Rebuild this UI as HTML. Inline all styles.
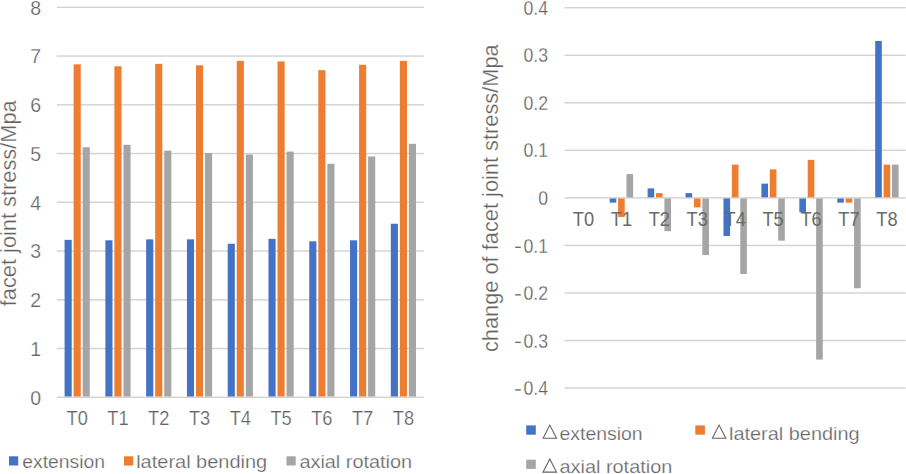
<!DOCTYPE html>
<html><head><meta charset="utf-8"><style>
html,body{margin:0;padding:0;background:#fff;width:906px;height:474px;overflow:hidden}
svg{display:block}
text{font-family:"Liberation Sans", sans-serif;fill:#636363;stroke:#fff;stroke-width:0.25px}
.xr{stroke:none;fill:#6a6a6a}
.t{font-size:19.5px}
.x{font-size:20.7px}
.l{font-size:19.1px}
.lr{font-size:18.6px}
.tr{font-size:20.3px}
.ti{font-size:21.8px}
</style></head><body>
<svg width="906" height="474" viewBox="0 0 906 474">
<rect width="906" height="474" fill="#fff"/>
<rect x="56.8" y="396.6" width="367" height="1.4" fill="#D2D2D2"/>
<rect x="56.8" y="347.85" width="367" height="1.4" fill="#D2D2D2"/>
<rect x="56.8" y="299.1" width="367" height="1.4" fill="#D2D2D2"/>
<rect x="56.8" y="250.35" width="367" height="1.4" fill="#D2D2D2"/>
<rect x="56.8" y="201.6" width="367" height="1.4" fill="#D2D2D2"/>
<rect x="56.8" y="152.85" width="367" height="1.4" fill="#D2D2D2"/>
<rect x="56.8" y="104.1" width="367" height="1.4" fill="#D2D2D2"/>
<rect x="56.8" y="55.35" width="367" height="1.4" fill="#D2D2D2"/>
<rect x="56.8" y="6.6" width="367" height="1.4" fill="#D2D2D2"/>
<rect x="64.59" y="239.84" width="7.12" height="156.66" fill="#4472C4"/>
<rect x="73.63" y="64.34" width="7.12" height="332.16" fill="#ED7D31"/>
<rect x="82.67" y="147.21" width="7.12" height="249.29" fill="#A5A5A5"/>
<rect x="105.37" y="240.32" width="7.12" height="156.18" fill="#4472C4"/>
<rect x="114.41" y="66.29" width="7.12" height="330.21" fill="#ED7D31"/>
<rect x="123.45" y="144.78" width="7.12" height="251.72" fill="#A5A5A5"/>
<rect x="146.15" y="239.35" width="7.12" height="157.15" fill="#4472C4"/>
<rect x="155.19" y="63.85" width="7.12" height="332.65" fill="#ED7D31"/>
<rect x="164.22" y="150.63" width="7.12" height="245.87" fill="#A5A5A5"/>
<rect x="186.93" y="239.35" width="7.12" height="157.15" fill="#4472C4"/>
<rect x="195.96" y="65.31" width="7.12" height="331.19" fill="#ED7D31"/>
<rect x="205" y="153.06" width="7.12" height="243.44" fill="#A5A5A5"/>
<rect x="227.7" y="243.74" width="7.12" height="152.76" fill="#4472C4"/>
<rect x="236.74" y="60.93" width="7.12" height="335.57" fill="#ED7D31"/>
<rect x="245.78" y="154.52" width="7.12" height="241.98" fill="#A5A5A5"/>
<rect x="268.48" y="238.86" width="7.12" height="157.64" fill="#4472C4"/>
<rect x="277.52" y="61.41" width="7.12" height="335.09" fill="#ED7D31"/>
<rect x="286.56" y="151.6" width="7.12" height="244.9" fill="#A5A5A5"/>
<rect x="309.26" y="241.3" width="7.12" height="155.2" fill="#4472C4"/>
<rect x="318.3" y="70.19" width="7.12" height="326.31" fill="#ED7D31"/>
<rect x="327.34" y="163.79" width="7.12" height="232.71" fill="#A5A5A5"/>
<rect x="350.04" y="240.32" width="7.12" height="156.18" fill="#4472C4"/>
<rect x="359.08" y="64.82" width="7.12" height="331.68" fill="#ED7D31"/>
<rect x="368.11" y="156.47" width="7.12" height="240.03" fill="#A5A5A5"/>
<rect x="390.81" y="223.75" width="7.12" height="172.75" fill="#4472C4"/>
<rect x="399.85" y="60.93" width="7.12" height="335.57" fill="#ED7D31"/>
<rect x="408.89" y="143.8" width="7.12" height="252.7" fill="#A5A5A5"/>
<text x="41" y="397.7" dy="0.35em" text-anchor="end" class="t">0</text>
<text x="41" y="348.95" dy="0.35em" text-anchor="end" class="t">1</text>
<text x="41" y="300.2" dy="0.35em" text-anchor="end" class="t">2</text>
<text x="41" y="251.45" dy="0.35em" text-anchor="end" class="t">3</text>
<text x="41" y="202.7" dy="0.35em" text-anchor="end" class="t">4</text>
<text x="41" y="153.95" dy="0.35em" text-anchor="end" class="t">5</text>
<text x="41" y="105.2" dy="0.35em" text-anchor="end" class="t">6</text>
<text x="41" y="56.45" dy="0.35em" text-anchor="end" class="t">7</text>
<text x="41" y="7.7" dy="0.35em" text-anchor="end" class="t">8</text>
<text transform="translate(77.19,424.9) scale(0.88,1)" text-anchor="middle" class="x">T0</text>
<text transform="translate(117.97,424.9) scale(0.88,1)" text-anchor="middle" class="x">T1</text>
<text transform="translate(158.74,424.9) scale(0.88,1)" text-anchor="middle" class="x">T2</text>
<text transform="translate(199.52,424.9) scale(0.88,1)" text-anchor="middle" class="x">T3</text>
<text transform="translate(240.3,424.9) scale(0.88,1)" text-anchor="middle" class="x">T4</text>
<text transform="translate(281.08,424.9) scale(0.88,1)" text-anchor="middle" class="x">T5</text>
<text transform="translate(321.86,424.9) scale(0.88,1)" text-anchor="middle" class="x">T6</text>
<text transform="translate(362.63,424.9) scale(0.88,1)" text-anchor="middle" class="x">T7</text>
<text transform="translate(403.41,424.9) scale(0.88,1)" text-anchor="middle" class="x">T8</text>
<text transform="translate(15.8,203.3) rotate(-90)" text-anchor="middle" class="ti">facet joint stress/Mpa</text>
<rect x="9" y="456.3" width="9.2" height="9.2" fill="#4472C4"/>
<text x="22.3" y="467.5" class="l" textLength="82.8" lengthAdjust="spacingAndGlyphs">extension</text>
<rect x="124" y="456.3" width="9.2" height="9.2" fill="#ED7D31"/>
<text x="136.2" y="467.5" class="l" textLength="131" lengthAdjust="spacingAndGlyphs">lateral bending</text>
<rect x="286.5" y="456.3" width="9.2" height="9.2" fill="#A5A5A5"/>
<text x="299.4" y="467.5" class="l" textLength="112.7" lengthAdjust="spacingAndGlyphs">axial rotation</text>
<rect x="564.5" y="387.4" width="341.37" height="1.4" fill="#D2D2D2"/>
<rect x="564.5" y="339.85" width="341.37" height="1.4" fill="#D2D2D2"/>
<rect x="564.5" y="292.3" width="341.37" height="1.4" fill="#D2D2D2"/>
<rect x="564.5" y="244.75" width="341.37" height="1.4" fill="#D2D2D2"/>
<rect x="564.5" y="197.2" width="341.37" height="1.4" fill="#D2D2D2"/>
<rect x="564.5" y="149.65" width="341.37" height="1.4" fill="#D2D2D2"/>
<rect x="564.5" y="102.1" width="341.37" height="1.4" fill="#D2D2D2"/>
<rect x="564.5" y="54.55" width="341.37" height="1.4" fill="#D2D2D2"/>
<rect x="564.5" y="7" width="341.37" height="1.4" fill="#D2D2D2"/>
<rect x="609.68" y="198.5" width="6.62" height="4.15" fill="#4472C4"/>
<rect x="618.09" y="198.5" width="6.62" height="18.42" fill="#ED7D31"/>
<rect x="626.49" y="174.12" width="6.62" height="23.18" fill="#A5A5A5"/>
<rect x="647.61" y="188.39" width="6.62" height="8.91" fill="#4472C4"/>
<rect x="656.02" y="193.15" width="6.62" height="4.16" fill="#ED7D31"/>
<rect x="664.42" y="198.5" width="6.62" height="32.68" fill="#A5A5A5"/>
<rect x="685.54" y="193.15" width="6.62" height="4.16" fill="#4472C4"/>
<rect x="693.95" y="198.5" width="6.62" height="8.91" fill="#ED7D31"/>
<rect x="702.35" y="198.5" width="6.62" height="56.46" fill="#A5A5A5"/>
<rect x="723.47" y="198.5" width="6.62" height="37.44" fill="#4472C4"/>
<rect x="731.88" y="164.62" width="6.62" height="32.69" fill="#ED7D31"/>
<rect x="740.28" y="198.5" width="6.62" height="75.48" fill="#A5A5A5"/>
<rect x="761.4" y="183.63" width="6.62" height="13.67" fill="#4472C4"/>
<rect x="769.81" y="169.37" width="6.62" height="27.93" fill="#ED7D31"/>
<rect x="778.21" y="198.5" width="6.62" height="42.19" fill="#A5A5A5"/>
<rect x="799.33" y="198.5" width="6.62" height="13.67" fill="#4472C4"/>
<rect x="807.74" y="159.86" width="6.62" height="37.44" fill="#ED7D31"/>
<rect x="816.14" y="198.5" width="6.62" height="161.07" fill="#A5A5A5"/>
<rect x="837.26" y="198.5" width="6.62" height="4.15" fill="#4472C4"/>
<rect x="845.67" y="198.5" width="6.62" height="4.15" fill="#ED7D31"/>
<rect x="854.07" y="198.5" width="6.62" height="89.75" fill="#A5A5A5"/>
<rect x="875.19" y="40.98" width="6.62" height="156.32" fill="#4472C4"/>
<rect x="883.6" y="164.62" width="6.62" height="32.69" fill="#ED7D31"/>
<rect x="892" y="164.62" width="6.62" height="32.69" fill="#A5A5A5"/>
<text transform="translate(548,7.7) scale(0.87,1)" dy="0.35em" text-anchor="end" class="tr">0.4</text>
<text transform="translate(548,55.25) scale(0.87,1)" dy="0.35em" text-anchor="end" class="tr">0.3</text>
<text transform="translate(548,102.8) scale(0.87,1)" dy="0.35em" text-anchor="end" class="tr">0.2</text>
<text transform="translate(548,150.35) scale(0.87,1)" dy="0.35em" text-anchor="end" class="tr">0.1</text>
<text transform="translate(548,197.9) scale(0.87,1)" dy="0.35em" text-anchor="end" class="tr">0</text>
<rect x="515.2" y="246.65" width="5.6" height="1.3" fill="#636363"/>
<text transform="translate(548,245.45) scale(0.87,1)" dy="0.35em" text-anchor="end" class="tr">0.1</text>
<rect x="515.2" y="294.2" width="5.6" height="1.3" fill="#636363"/>
<text transform="translate(548,293) scale(0.87,1)" dy="0.35em" text-anchor="end" class="tr">0.2</text>
<rect x="515.2" y="341.75" width="5.6" height="1.3" fill="#636363"/>
<text transform="translate(548,340.55) scale(0.87,1)" dy="0.35em" text-anchor="end" class="tr">0.3</text>
<rect x="515.2" y="389.3" width="5.6" height="1.3" fill="#636363"/>
<text transform="translate(548,388.1) scale(0.87,1)" dy="0.35em" text-anchor="end" class="tr">0.4</text>
<text transform="translate(583.47,226.1) scale(0.88,1)" text-anchor="middle" class="x xr">T0</text>
<text transform="translate(621.39,226.1) scale(0.88,1)" text-anchor="middle" class="x xr">T1</text>
<text transform="translate(659.33,226.1) scale(0.88,1)" text-anchor="middle" class="x xr">T2</text>
<text transform="translate(697.25,226.1) scale(0.88,1)" text-anchor="middle" class="x xr">T3</text>
<text transform="translate(735.18,226.1) scale(0.88,1)" text-anchor="middle" class="x xr">T4</text>
<text transform="translate(773.12,226.1) scale(0.88,1)" text-anchor="middle" class="x xr">T5</text>
<text transform="translate(811.04,226.1) scale(0.88,1)" text-anchor="middle" class="x xr">T6</text>
<text transform="translate(848.98,226.1) scale(0.88,1)" text-anchor="middle" class="x xr">T7</text>
<text transform="translate(886.9,226.1) scale(0.88,1)" text-anchor="middle" class="x xr">T8</text>
<text transform="translate(498.3,198.2) rotate(-90)" text-anchor="middle" class="ti">change of facet joint stress/Mpa</text>
<rect x="526.2" y="425.4" width="9.6" height="9.3" fill="#4472C4"/>
<path d="M543.1 438.2 L549.8 425.1 L556.5 438.2 Z" fill="none" stroke="#636363" stroke-width="1.1"/>
<text x="559.5" y="439.6" class="lr" textLength="83.1" lengthAdjust="spacingAndGlyphs">extension</text>
<rect x="695.3" y="425.4" width="9.6" height="9.3" fill="#ED7D31"/>
<path d="M712.4 438.2 L719.1 425.1 L725.8 438.2 Z" fill="none" stroke="#636363" stroke-width="1.1"/>
<text x="729" y="439.6" class="lr" textLength="130.6" lengthAdjust="spacingAndGlyphs">lateral bending</text>
<rect x="526.2" y="459.7" width="9.6" height="9.2" fill="#A5A5A5"/>
<path d="M543.1 472.1 L549.8 459 L556.5 472.1 Z" fill="none" stroke="#636363" stroke-width="1.1"/>
<text x="559.5" y="473.4" class="lr" textLength="112.8" lengthAdjust="spacingAndGlyphs">axial rotation</text>
</svg>
</body></html>
